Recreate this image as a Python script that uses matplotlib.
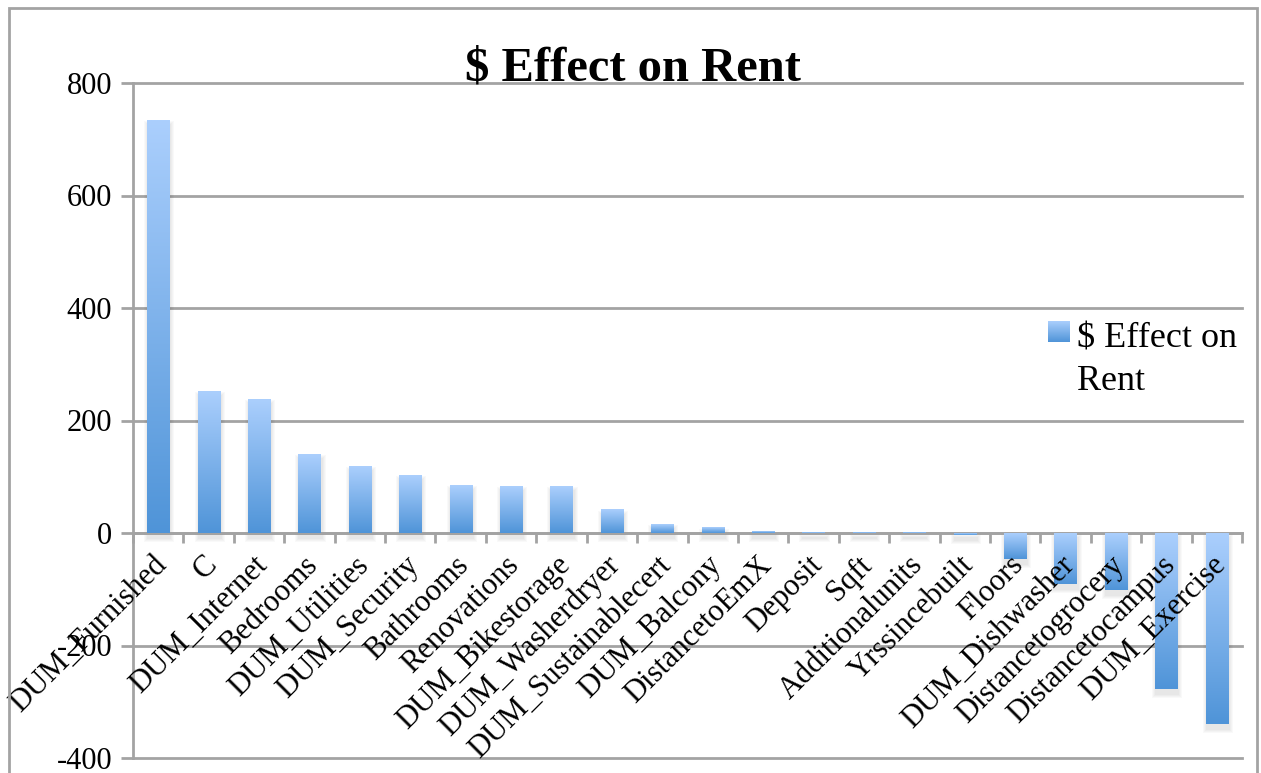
import numpy as np
import matplotlib
matplotlib.use("Agg")
import matplotlib.pyplot as plt
from matplotlib.colors import LinearSegmentedColormap
from matplotlib.patches import Rectangle
from matplotlib.transforms import ScaledTranslation

categories = [
    "DUM_Furnished", "C", "DUM_Internet", "Bedrooms", "DUM_Utilities",
    "DUM_Security", "Bathrooms", "Renovations", "DUM_Bikestorage",
    "DUM_Washerdryer", "DUM_Sustainablecert", "DUM_Balcony",
    "DistancetoEmX", "Deposit", "Sqft", "Additionalunits", "Yrssincebuilt",
    "Floors", "DUM_Dishwasher", "Distancetogrocery", "Distancetocampus",
    "DUM_Exercise",
]
effect = [734, 252, 238, 140, 119, 103, 85, 83, 83, 41, 16, 9, 3,
          0.6, 0.4, 0.4, -3, -46, -90, -101, -277, -339]
yticks = [-400, -200, 0, 200, 400, 600, 800]
series_name = r"\$ Effect on Rent"

plt.rcParams["font.family"] = ["Liberation Serif", "DejaVu Serif"]
GRID = "#a3a3a3"
cmap = LinearSegmentedColormap.from_list("excel_blue", ["#4f94d8", "#abcffd"])
grad = np.linspace(0, 1, 256).reshape(-1, 1)

fig = plt.figure(figsize=(12.61, 7.73), dpi=100)
ax = fig.add_axes([133 / 1261, 1 - 758 / 773, (1242 - 133) / 1261, (758 - 83) / 773])

# spine position first: it resets the tick objects
ax.spines["bottom"].set_position(("data", 0))
ax.spines["bottom"].set_color(GRID)
ax.spines["bottom"].set_linewidth(2)
ax.spines["left"].set_color(GRID)
ax.spines["left"].set_linewidth(2)
ax.spines["top"].set_visible(False)
ax.spines["right"].set_visible(False)

x = np.arange(len(categories))
bars = ax.bar(x, effect, width=0.44, facecolor="none", edgecolor="none", zorder=3)

# gradient fill + soft drop shadow for every bar
px_x = len(categories) / 1109
px_y = 1 / 0.5625
for b in bars:
    bx, by, bw, bh = b.get_x(), b.get_y(), b.get_width(), b.get_height()
    y0, y1 = min(by, by + bh), max(by, by + bh)
    for k in range(1, 5):
        ax.add_patch(Rectangle((bx + px_x - k * px_x, y0 - 5 * px_y - k * px_y),
                               bw + 2 * k * px_x, (y1 - y0) + 2 * k * px_y,
                               facecolor="black", edgecolor="none",
                               alpha=0.025, zorder=2))
    ax.imshow(grad, extent=[bx, bx + bw, y0, y1], origin="lower", cmap=cmap,
              aspect="auto", zorder=3, interpolation="bilinear")

ax.set_xlim(-0.5, len(categories) - 0.5)
ax.set_ylim(-400, 800)
ax.set_yticks(yticks)
ax.set_yticklabels([str(v) for v in yticks], fontsize=22)
ax.yaxis.grid(True, color=GRID, linewidth=2)
ax.set_axisbelow(True)
for gl in ax.yaxis.get_gridlines():
    gl.set_clip_on(False)

ax.set_xticks(x)
ax.set_xticklabels(categories, fontsize=22, rotation=45, ha="right",
                   va="center", rotation_mode="anchor")
ax.set_xticks(np.arange(len(categories) + 1) - 0.5, minor=True)
ax.tick_params(axis="x", which="major", length=0, pad=20)
ax.tick_params(axis="x", which="minor", length=7, width=2, color=GRID,
               direction="out")
ax.tick_params(axis="y", length=9, width=2, color=GRID, pad=6)
shift = ScaledTranslation(4 / 100, 0, fig.dpi_scale_trans)
for lab in ax.get_xticklabels():
    lab.set_transform(lab.get_transform() + shift)
# category names sit on top of the negative bars
ax.xaxis.set_zorder(4)

fig.text(633 / 1261, 1 - 81 / 773, series_name, ha="center", va="baseline",
         fontsize=35, fontweight="bold")

# legend: gradient swatch + wrapped label
lax = fig.add_axes([1048 / 1261, 1 - 342 / 773, 21 / 1261, 21 / 773])
lax.imshow(grad, origin="lower", cmap=cmap, aspect="auto", extent=[0, 1, 0, 1])
lax.set_axis_off()
fig.text(1077 / 1261, 1 - 347 / 773, r"\$ Effect on", ha="left",
         va="baseline", fontsize=26)
fig.text(1077 / 1261, 1 - 390 / 773, "Rent", ha="left", va="baseline",
         fontsize=26)

# outer chart frame
fig.patches.append(Rectangle((9 / 1261, -0.1), (1257 - 9) / 1261,
                             1 - 8 / 773 + 0.1, transform=fig.transFigure,
                             fill=False, edgecolor=GRID, linewidth=2))

ax.set_xlim(-0.5, len(categories) - 0.5)
ax.set_ylim(-400, 800)
fig.savefig("out.png", dpi=100)
